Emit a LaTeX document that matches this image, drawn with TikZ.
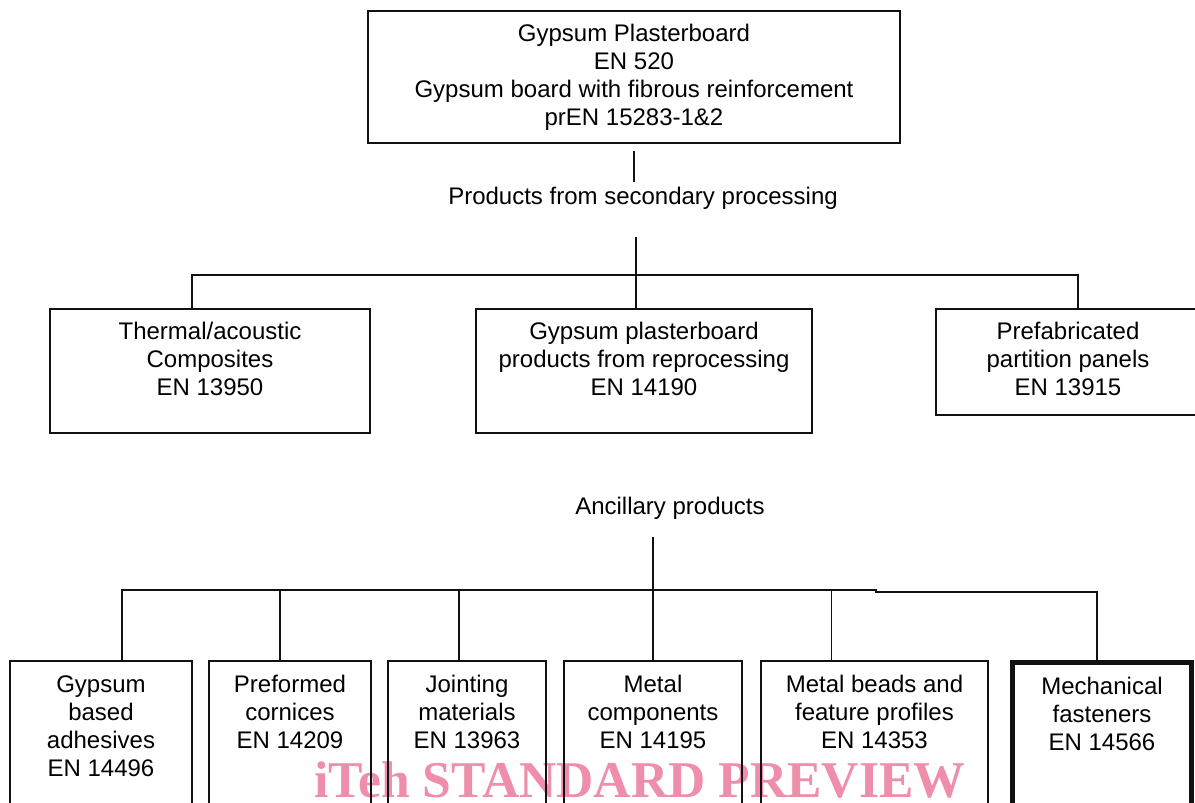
\documentclass[tikz,border=0pt]{standalone}
\usepackage{fontspec}
\setmainfont{Liberation Sans}
\newfontfamily\wmfont{Liberation Serif}
\usetikzlibrary{positioning}
\definecolor{ink}{HTML}{111111}
\definecolor{wmpink}{HTML}{EE8EAA}
\tikzset{
  box/.style={draw=ink,line width=0.8pt,inner sep=0pt},
  heavybox/.style={box,line width=2.5pt},
  boxtxt/.style={anchor=north,align=center,inner sep=0pt,font=\fontsize{12}{14}\selectfont},
  caption/.style={inner sep=2pt,font=\fontsize{12}{14}\selectfont},
  link/.style={draw=ink,line width=0.8pt},
  watermark/.style={anchor=base west,inner sep=0pt,text=wmpink,
    font=\wmfont\bfseries\fontsize{25.8}{28}\selectfont},
}
\begin{document}
\begin{tikzpicture}[x=0.5pt,y=-0.5pt]
  \path[use as bounding box,clip] (0,0) rectangle (1195,803);
  \fill[white] (0,0) rectangle (1195,803);
  \node[watermark] (wm) at (314,797) {iTeh STANDARD PREVIEW};
  % main product
  \node[box,minimum width=266pt,minimum height=66pt,align=center,
    font=\fontsize{12}{14}\selectfont] (top) at (634,77)
    {Gypsum Plasterboard\\EN 520\\Gypsum board with fibrous reinforcement\\prEN 15283-1\&2};
  \node[caption] (sec) at (643,198) {Products from secondary processing};
  % secondary processing row
  \node[box,minimum width=160pt,minimum height=62pt] (L1) at (210,371) {};
  \node[box,minimum width=168pt,minimum height=62pt] (L2) at (644,371) {};
  \node[box,minimum width=132pt,minimum height=53pt] (L3) at (1068,362) {};
  \node[boxtxt] (L1t) at ([yshift=-7pt]L1.north) {Thermal/acoustic\\Composites\\EN 13950};
  \node[boxtxt] (L2t) at ([yshift=-7pt]L2.north) {Gypsum plasterboard\\products from reprocessing\\EN 14190};
  \node[boxtxt] (L3t) at ([yshift=-7pt]L3.north) {Prefabricated\\partition panels\\EN 13915};
  \coordinate (s1) at (636,237);
  \coordinate (bus1) at (636,275);
  \draw[link] ([yshift=-3.5pt]top.south) -- (sec.north -| top.south);
  \draw[link] (s1) -- (L2.north -| s1);
  \draw[link] ([xshift=-9pt]L1.north) |- (bus1) -| ([xshift=5pt]L3.north);
  % ancillary row
  \node[caption] (anc) at (670,508) {Ancillary products};
  \foreach \n/\cx/\w in {B1/101/91pt,B2/290/81pt,B3/467/79pt,B4/653/89pt,B5/874.5/113.5pt}{
    \node[box,minimum width=\w,minimum height=80pt] (\n) at (\cx,741) {};
  }
  \node[heavybox,minimum width=89.5pt,minimum height=80pt] (B6) at (1102,742) {};
  \node[boxtxt] (B1t) at ([yshift=-7.5pt]B1.north) {Gypsum\\based\\adhesives\\EN 14496};
  \node[boxtxt] (B2t) at ([yshift=-7.5pt]B2.north) {Preformed\\cornices\\EN 14209};
  \node[boxtxt] (B3t) at ([yshift=-7.5pt]B3.north) {Jointing\\materials\\EN 13963};
  \node[boxtxt] (B4t) at ([yshift=-7.5pt]B4.north) {Metal\\components\\EN 14195};
  \node[boxtxt] (B5t) at ([yshift=-7.5pt]B5.north) {Metal beads and\\feature profiles\\EN 14353};
  \node[boxtxt] (B6t) at ([yshift=-8.5pt]B6.north) {Mechanical\\fasteners\\EN 14566};
  \coordinate (a1) at (653,537);
  \coordinate (bus2) at (876,590);
  \draw[link] (a1) -- (B4.north);
  \draw[link] ([xshift=10.5pt]B1.north) |- (bus2) -- ++(0,2) -| ([xshift=-2.5pt]B6.north);
  \foreach \n/\s in {B2/-5pt,B3/-4pt,B5/-21.5pt}{
    \draw[link] ([xshift=\s]\n.north) -- ([xshift=\s]\n.north |- bus2);
  }
\end{tikzpicture}
\end{document}
